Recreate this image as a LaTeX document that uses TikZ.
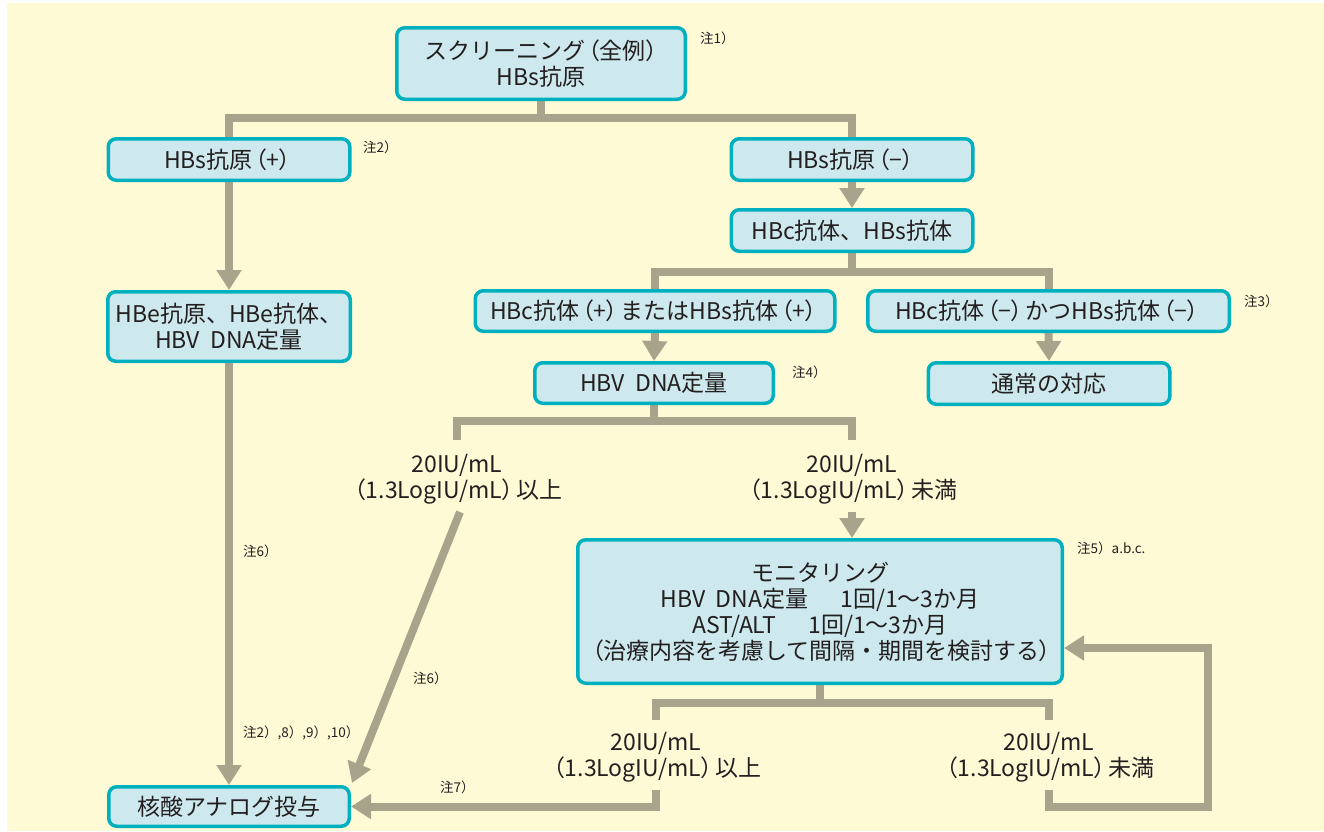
\documentclass[tikz,border=0pt]{standalone}
\usepackage{fontspec}
\setmainfont{Noto Sans CJK JP}
\usetikzlibrary{arrows.meta}
\pgfdeclarelayer{paper}
\pgfdeclarelayer{back}
\pgfsetlayers{paper,back,main}
\definecolor{bgy}{HTML}{FFFAD6}
\definecolor{boxf}{HTML}{CDE9EE}
\definecolor{boxd}{HTML}{00B0BE}
\definecolor{lnc}{HTML}{A8A48C}
\definecolor{txt}{HTML}{231F20}
\newcommand{\lpr}{\hspace{0.12em}{\addfontfeature{RawFeature=+palt}（}}
\newcommand{\rpr}{{\addfontfeature{RawFeature=+palt}）}\hspace{0.12em}}
\newcommand{\gap}{\hspace{0.45em}}
\newcommand{\wgap}{\hspace{1.4em}}
\begin{document}
\begin{tikzpicture}[x=1pt,y=-1pt,
 box/.style={draw=boxd, fill=boxf, line width=3.5pt, rounded corners=8pt, inner sep=0pt, align=center, font=\fontsize{23}{26}\selectfont, text=txt},
 ln/.style={draw=lnc, line width=8pt},
 arr/.style={ln, -{Triangle[width=24pt,length=20pt]}},
 note/.style={anchor=west, font=\fontsize{13.5}{15}\selectfont, text=txt, inner sep=0pt},
 lbl/.style={align=center, font=\fontsize{23}{26}\selectfont, text=txt, inner sep=0pt}]
\begin{pgfonlayer}{paper}
\path[use as bounding box, fill=white] (0,0) rectangle (1324,831);
\fill[bgy] (7,3) rectangle (1324,831);
\end{pgfonlayer}
% boxes
\node[box, minimum width=288.5pt, minimum height=71.5pt] (scr) at (541,63.5) {スクリーニング\lpr 全例\rpr\\HBs抗原};
\node[box, minimum width=241.5pt, minimum height=41.5pt] (hbsp) at (229,159.5) {HBs抗原\lpr+\rpr};
\node[box, minimum width=241.5pt, minimum height=41.5pt] (hbsm) at (852,159.5) {HBs抗原\lpr−\rpr};
\node[box, minimum width=241.5pt, minimum height=41.5pt] (hbcs) at (852,230.5) {HBc抗体、HBs抗体};
\node[box, minimum width=242.5pt, minimum height=69.5pt] (hbe) at (229,326.5) {HBe抗原、HBe抗体、\\HBV\gap DNA定量};
\node[box, minimum width=359.5pt, minimum height=40.5pt] (pos) at (655,311) {HBc抗体\lpr+\rpr またはHBs抗体\lpr+\rpr};
\node[box, minimum width=361.5pt, minimum height=40.5pt] (neg) at (1048.5,311) {HBc抗体\lpr−\rpr かつHBs抗体\lpr−\rpr};
\node[box, minimum width=238.5pt, minimum height=40.5pt] (dna) at (654,383) {HBV\gap DNA定量};
\node[box, minimum width=241.5pt, minimum height=41.5pt] (usual) at (1049,383.5) {通常の対応};
\node[box, minimum width=484.5pt, minimum height=143.5pt] (mon) at (820,611.5) {モニタリング\\HBV\gap DNA定量\wgap 1回/1～3か月\\AST/ALT\wgap 1回/1～3か月\\\lpr 治療内容を考慮して間隔・期間を検討する\rpr};
\node[box, minimum width=240.5pt, minimum height=39.5pt] (nuc) at (229,806.5) {核酸アナログ投与};
% threshold labels
\node[lbl] (t1) at (457,479) {20IU/mL\\\lpr 1.3LogIU/mL\rpr 以上};
\node[lbl] (t2) at (852,479) {20IU/mL\\\lpr 1.3LogIU/mL\rpr 未満};
\node[lbl] (t3) at (656,757) {20IU/mL\\\lpr 1.3LogIU/mL\rpr 以上};
\node[lbl] (t4) at (1049,757) {20IU/mL\\\lpr 1.3LogIU/mL\rpr 未満};
% notes
\node[note] (n1) at (700,38) {注1）};
\node[note] (n2) at (363,147) {注2）};
\node[note] (n3) at (1244,301) {注3）};
\node[note] (n4) at (792,372) {注4）};
\node[note] (n5) at (1077,548) {注5）a.b.c.};
\node[note] (n6) at (243,551) {注6）};
\node[note] (n7) at (243,733) {注2）,8）,9）,10）};
\node[note] (n8) at (413,678) {注6）};
\node[note] (n9) at (440,787) {注7）};
% coordinates
\coordinate (j1) at (541,118);
\coordinate (j2) at (852,272);
\coordinate (j3) at (654,421);
\coordinate (b1) at (457,440);
\coordinate (b2) at (852,440);
\coordinate (c4) at (852,512);
\coordinate (c5) at (460,512);
\coordinate (cn) at (352,783);
\coordinate (j4) at (820,703);
\coordinate (b3) at (656,720);
\coordinate (b4) at (1049,720);
\coordinate (c6) at (656,790);
\coordinate (c7) at (1049,790);
\coordinate (fb1) at (1208,807);
\coordinate (fb2) at (1208,648);
\begin{pgfonlayer}{back}
\draw[ln] (scr.south) -- (j1);
\draw[ln] (hbsp.north) |- (j1) -| (hbsm.north);
\draw[arr] (hbsp.south) -- (hbe.north);
\draw[arr] (hbe.south) -- (nuc.north);
\draw[arr] (hbsm.south) -- (hbcs.north);
\draw[ln] (hbcs.south) -- (j2);
\draw[ln] (pos.north) |- (j2) -| (neg.north);
\draw[arr] (pos.south) -- (dna.north);
\draw[arr] (neg.south) -- (usual.north);
\draw[ln] (dna.south) -- (j3);
\draw[ln] (b1) |- (j3) -| (b2);
\draw[arr] (c4) -- (c4 |- mon.north);
\draw[arr] (c5) -- (cn);
\draw[ln] (mon.south) -- (j4);
\draw[ln] (b3) |- (j4) -| (b4);
\draw[arr] (c6) |- (nuc.east);
\draw[arr] (c7) |- (fb1) -- (fb2) -- (mon.east |- fb2);
\end{pgfonlayer}
\end{tikzpicture}
\end{document}
